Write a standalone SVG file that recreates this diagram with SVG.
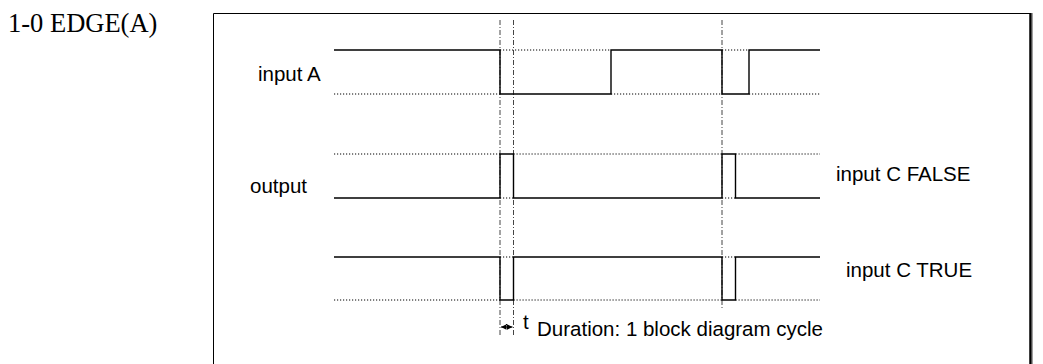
<svg xmlns="http://www.w3.org/2000/svg" width="1043" height="364" viewBox="0 0 1043 364">
<style>
.sig{fill:none;stroke:#000;stroke-width:1.4}
.dot{fill:none;stroke:#000;stroke-width:1;stroke-dasharray:1.2 1.8}
.dd{fill:none;stroke:#444;stroke-width:1;stroke-dasharray:5 2 1 2}
.lbl{font-family:"Liberation Sans",Arial,sans-serif;font-size:20.5px;fill:#000}
</style>
<rect width="1043" height="364" fill="#fff"/>
<text x="8" y="32" font-family="Liberation Serif,'Times New Roman',serif" font-size="26.5">1-0 EDGE(A)</text>
<g id="frame">
<path d="M213.5 364V13.5H1030" fill="none" stroke="#000" stroke-width="1"/>
<line x1="1030.5" y1="13" x2="1030.5" y2="364" stroke="#000" stroke-width="2.5"/>
<line x1="1032.3" y1="13" x2="1032.3" y2="364" stroke="#888" stroke-width="1"/>
</g>
<g id="connectors">
<line class="dd" x1="500" y1="20" x2="500" y2="337"/>
<line class="dd" x1="513.5" y1="20" x2="513.5" y2="337"/>
<line class="dd" x1="722" y1="20" x2="722" y2="308"/>
</g>
<g id="inputA">
<text class="lbl" x="258" y="81">input A</text>
<path class="dot" d="M334 94H500M500 50H611M611 94H722M722 50H749M749 94H820"/>
<path class="sig" d="M334 50H500V94H611V50H722V94H749V50H820"/>
</g>
<g id="outputFalse">
<text class="lbl" x="250" y="193">output</text>
<text class="lbl" x="836" y="181">input C FALSE</text>
<path class="dot" d="M334 154H500M513.5 154H722M735.5 154H820M500 198H513.5M722 198H735.5"/>
<path class="sig" d="M334 198H500V154H513.5V198H722V154H735.5V198H820"/>
</g>
<g id="outputTrue">
<text class="lbl" x="846" y="277">input C TRUE</text>
<path class="dot" d="M334 300H500M513.5 300H722M735.5 300H820M500 257H513.5M722 257H735.5"/>
<path class="sig" d="M334 257H500V300H513.5V257H722V300H735.5V257H820"/>
</g>
<g id="duration">
<path d="M501 327L507 324V330ZM512.5 327L506.5 324V330Z" fill="#000"/>
<line x1="501" y1="327" x2="512.5" y2="327" stroke="#000" stroke-width="1"/>
<text class="lbl" x="523" y="329" font-size="13">t</text>
<text class="lbl" x="537" y="336">Duration: 1 block diagram cycle</text>
</g>
</svg>
